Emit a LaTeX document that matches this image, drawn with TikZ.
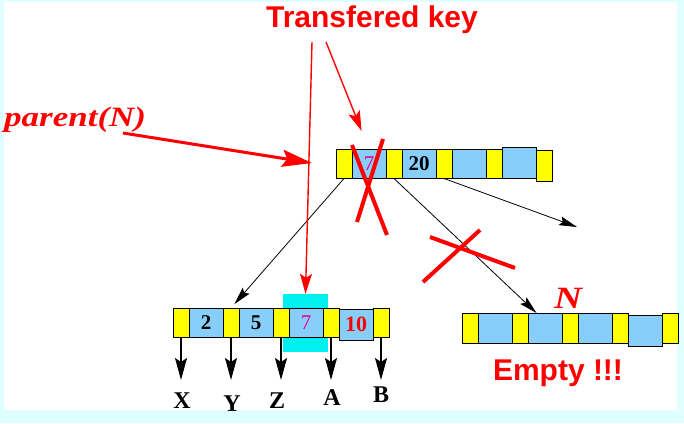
\documentclass[tikz,border=0pt]{standalone}
\usepackage{fontspec}
\setmainfont{Liberation Serif}
\setsansfont{Liberation Sans}
\newfontfamily\wideserif[FakeStretch=1.25]{Liberation Serif}
\usetikzlibrary{arrows.meta,positioning,calc}

\definecolor{framecyan}{RGB}{224,255,255}
\definecolor{cellyellow}{RGB}{255,255,0}
\definecolor{cellblue}{RGB}{135,206,250}
\definecolor{markcyan}{RGB}{0,240,240}

\begin{document}
\begin{tikzpicture}[
  x=1pt,y=-1pt,
  cell/.style={draw,line width=0.9pt,inner sep=0pt,outer sep=0pt,minimum height=29pt,
    font=\fontsize{21}{21}\selectfont\bfseries},
  ycell/.style={cell,fill=cellyellow,minimum width=16pt},
  bcell/.style={cell,fill=cellblue,minimum width=34pt},
  pinkkey/.style={text=magenta,font=\fontsize{21}{21}\selectfont},
  redkey/.style={text=red,font=\fontsize{22}{22}\selectfont\bfseries},
  leaf/.style={inner sep=0pt,anchor=base,font=\fontsize{24}{24}\selectfont\bfseries},
  note/.style={text=red,inner sep=0pt,anchor=base,font=\sffamily\bfseries\fontsize{30}{30}\selectfont},
  slanted/.style={text=red,inner sep=0pt,font=\wideserif\bfseries\itshape\fontsize{28}{28}\selectfont},
  link/.style={-{Stealth[length=18pt,width=9pt,inset=3pt]},line width=0.8pt},
  drop/.style={-{Stealth[length=22pt,width=12pt,inset=4pt]},line width=1.4pt},
  redarr/.style={red,line width=1.4pt,-{Stealth[length=20pt,width=12pt,inset=4pt]}},
  bigarr/.style={red,line width=3pt,-{Stealth[length=30pt,width=17pt,inset=5pt]}},
  cross/.style={red,line width=4pt}
]

% ---------- frame ----------
\fill[framecyan] (0,0) rectangle (684,423);
\fill[white] (4,2) rectangle (677,410);
\useasboundingbox (0,0) rectangle (684,423);

% ---------- parent node ----------
\node[ycell] (t1) at (344,164) {};
\node[bcell,right=0pt of t1,pinkkey] (t2) {7};
\node[ycell,right=0pt of t2] (t3) {};
\node[bcell,right=0pt of t3] (t4) {20};
\node[ycell,right=0pt of t4] (t5) {};
\node[bcell,right=0pt of t5] (t6) {};
\node[ycell,right=0pt of t6] (t7) {};
\node[bcell,right=0pt of t7,minimum height=31pt,yshift=1.5pt] (t8) {};
\node[ycell,right=0pt of t8,minimum height=31pt,yshift=-3pt] (t9) {};

% ---------- left sibling ----------
\node[fill=markcyan,minimum width=45pt,minimum height=58pt,inner sep=0pt] (hilite) at (305.5,323) {};
\node[ycell] (b1) at (181,322.5) {};
\node[bcell,right=0pt of b1] (b2) {2};
\node[ycell,right=0pt of b2] (b3) {};
\node[bcell,right=0pt of b3] (b4) {5};
\node[ycell,right=0pt of b4] (b5) {};
\node[bcell,right=0pt of b5,pinkkey] (b6) {7};
\node[ycell,right=0pt of b6] (b7) {};
\node[bcell,right=0pt of b7,minimum height=31pt,yshift=-2pt,redkey] (b8) {10};
\node[ycell,right=0pt of b8,yshift=2pt] (b9) {};

% ---------- empty node N ----------
\node[ycell,minimum height=30pt] (n1) at (470,328) {};
\node[bcell,right=0pt of n1,minimum height=30pt] (n2) {};
\node[ycell,right=0pt of n2,minimum height=30pt] (n3) {};
\node[bcell,right=0pt of n3,minimum height=30pt] (n4) {};
\node[ycell,right=0pt of n4,minimum height=30pt] (n5) {};
\node[bcell,right=0pt of n5,minimum height=30pt] (n6) {};
\node[ycell,right=0pt of n6,minimum height=30pt] (n7) {};
\node[bcell,right=0pt of n7,minimum height=31pt,yshift=-2.5pt] (n8) {};
\node[ycell,right=0pt of n8,minimum height=30pt,yshift=2.5pt] (n9) {};

% ---------- texts ----------
\node[note] (key) at (372,27) {Transfered key};
\node[note] (empty) at (558,380) {Empty !!!};
\node[slanted,anchor=base west] (parent) at (4,126) {parent(N)};
\node[slanted,anchor=base,font=\wideserif\bfseries\itshape\fontsize{31}{31}\selectfont] (nlab) at (568,308) {N};

\node[leaf] (lx) at (182,408) {X};
\node[leaf] (ly) at (232,411) {Y};
\node[leaf] (lz) at (277,408) {Z};
\node[leaf] (la) at (332,405) {A};
\node[leaf] (lb) at (381,402) {B};

% ---------- connectors ----------
\coordinate (e1) at (181,380);
\coordinate (e2) at (231,380);
\coordinate (e3) at (281,380);
\coordinate (e4) at (331,380);
\coordinate (e5) at (381,380);
\draw[drop] (b1.south) -- (e1);
\draw[drop] (b3.south) -- (e2);
\draw[drop] (b5.south) -- (e3);
\draw[drop] (b7.south) -- (e4);
\draw[drop] (b9.south) -- (e5);

\coordinate (tail) at (577,227);
\draw[link,shorten >=5pt] (t1.south) -- (b3.north);
\draw[link] (t3.south) -- ($(n4.north west)!0.5!(n4.north)$);
\draw[link] (t5.south) -- (tail);

\coordinate (k1) at (312,42);
\coordinate (k2) at (326,42);
\coordinate (pa) at (123,133);
\coordinate (pn) at (312,163);
\draw[redarr] (k1) -- (hilite.north);
\draw[redarr,shorten >=20pt] (k2) -- (t2.north);
\draw[bigarr] (pa) -- (pn);

% crossed out key and link
\draw[cross] (352,145) -- (387,235);
\draw[cross] (383,139) -- (357,222);
\draw[cross] (430,237) -- (515,268);
\draw[cross] (480,230) -- (423,282);

\end{tikzpicture}
\end{document}
